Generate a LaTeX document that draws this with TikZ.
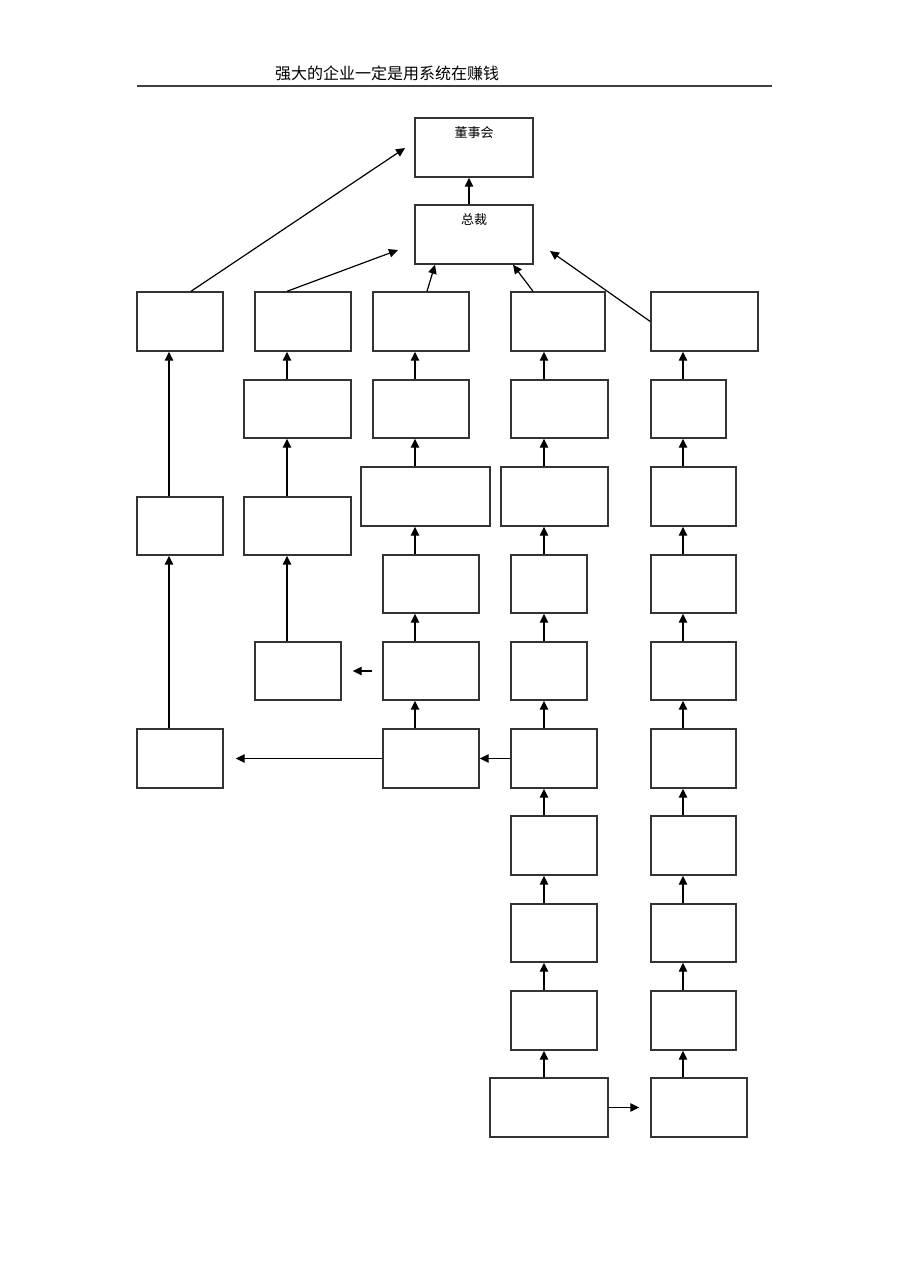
\documentclass[tikz,border=0pt]{standalone}
\usepackage{fontspec}
\newfontfamily\cjk{Noto Sans CJK SC}
\usetikzlibrary{arrows.meta,fit}

\tikzset{
  blk/.style = {draw = black!80, line width = 0.7pt, inner sep = 0pt},
  lbl/.style = {anchor = center, yshift = -7.5pt, inner sep = 0pt, font = \cjk\fontsize{6.5}{8}\selectfont},
  arr/.style = {line width = 0.6pt, -{Triangle[length = 4.5pt, width = 4.2pt]}}
}

\begin{document}
\begin{tikzpicture}[x = 0.5pt, y = -0.5pt]
\useasboundingbox (0,0) rectangle (909,1286);

\node[font = \cjk\fontsize{8}{10}\selectfont] (title) at (387,73) {强大的企业一定是用系统在赚钱};
\draw[line width = 1pt, draw = black!75] (137,86) -- (772,86);

\coordinate (colA) at (169,0);
\coordinate (colB) at (287,0);
\coordinate (colC) at (415,0);
\coordinate (colD) at (544,0);
\coordinate (colE) at (683,0);

\node[blk, fit = {(415,118) (533,177)}, label = {[lbl]north:董事会}] (dsh) {};
\node[blk, fit = {(415,205) (533,264)}, label = {[lbl]north:总裁}] (zc) {};

\node[blk, fit = {(137,292) (223,351)}] (a1) {};
\node[blk, fit = {(137,497) (223,555)}] (a2) {};
\node[blk, fit = {(137,729) (223,788)}] (a3) {};

\node[blk, fit = {(255,292) (351,351)}] (b1) {};
\node[blk, fit = {(244,380) (351,438)}] (b2) {};
\node[blk, fit = {(244,497) (351,555)}] (b3) {};
\node[blk, fit = {(255,642) (341,700)}] (b4) {};

\node[blk, fit = {(373,292) (469,351)}] (c1) {};
\node[blk, fit = {(373,380) (469,438)}] (c2) {};
\node[blk, fit = {(361,467) (490,526)}] (c3) {};
\node[blk, fit = {(383,555) (479,613)}] (c4) {};
\node[blk, fit = {(383,642) (479,700)}] (c5) {};
\node[blk, fit = {(383,729) (479,788)}] (c6) {};

\node[blk, fit = {(511,292) (605,351)}] (d1) {};
\node[blk, fit = {(511,380) (608,438)}] (d2) {};
\node[blk, fit = {(501,467) (608,526)}] (d3) {};
\node[blk, fit = {(511,555) (587,613)}] (d4) {};
\node[blk, fit = {(511,642) (587,700)}] (d5) {};
\node[blk, fit = {(511,729) (597,788)}] (d6) {};
\node[blk, fit = {(511,816) (597,875)}] (d7) {};
\node[blk, fit = {(511,904) (597,962)}] (d8) {};
\node[blk, fit = {(511,991) (597,1050)}] (d9) {};
\node[blk, fit = {(490,1078) (608,1137)}] (d10) {};

\node[blk, fit = {(651,292) (758,351)}] (e1) {};
\node[blk, fit = {(651,380) (726,438)}] (e2) {};
\node[blk, fit = {(651,467) (736,526)}] (e3) {};
\node[blk, fit = {(651,555) (736,613)}] (e4) {};
\node[blk, fit = {(651,642) (736,700)}] (e5) {};
\node[blk, fit = {(651,729) (736,788)}] (e6) {};
\node[blk, fit = {(651,816) (736,875)}] (e7) {};
\node[blk, fit = {(651,904) (736,962)}] (e8) {};
\node[blk, fit = {(651,991) (736,1050)}] (e9) {};
\node[blk, fit = {(651,1078) (747,1137)}] (e10) {};

% top links
\draw[arr] ([xshift = -2.5pt]zc.north) -- ([xshift = -2.5pt]dsh.south);
\coordinate (endA) at (405,148);
\coordinate (endB) at (398,250);
\coordinate (endE) at (550,251);
\draw[arr] (a1.north -| 191,0) -- (endA);
\draw[arr] (b1.north -| 287,0) -- (endB);
\draw[arr] (c1.north -| 427,0) -- (zc.south -| 435,0);
\draw[arr] (d1.north -| 533,0) -- (zc.south -| 513,0);
\draw[arr] (e1.west) -- (endE);

% columns
\foreach \lo/\hi in {a3/a2, a2/a1}
  \draw[arr] (\lo.north -| colA) -- (\hi.south -| colA);
\foreach \lo/\hi in {b4/b3, b3/b2, b2/b1}
  \draw[arr] (\lo.north -| colB) -- (\hi.south -| colB);
\foreach \lo/\hi in {c6/c5, c5/c4, c4/c3, c3/c2, c2/c1}
  \draw[arr] (\lo.north -| colC) -- (\hi.south -| colC);
\foreach \lo/\hi in {d10/d9, d9/d8, d8/d7, d7/d6, d6/d5, d5/d4, d4/d3, d3/d2, d2/d1}
  \draw[arr] (\lo.north -| colD) -- (\hi.south -| colD);
\foreach \lo/\hi in {e10/e9, e9/e8, e8/e7, e7/e6, e6/e5, e5/e4, e4/e3, e3/e2, e2/e1}
  \draw[arr] (\lo.north -| colE) -- (\hi.south -| colE);

% side links
\draw[arr] (d6.west) -- (c6.east);
\draw[arr, shorten > = 6pt] (c6.west) -- (a3.east);
\draw[arr, shorten < = 5pt, shorten > = 5.5pt] (c5.west) -- (b4.east);
\draw[arr, shorten > = 5.5pt] (d10.east) -- (e10.west);
\end{tikzpicture}
\end{document}
